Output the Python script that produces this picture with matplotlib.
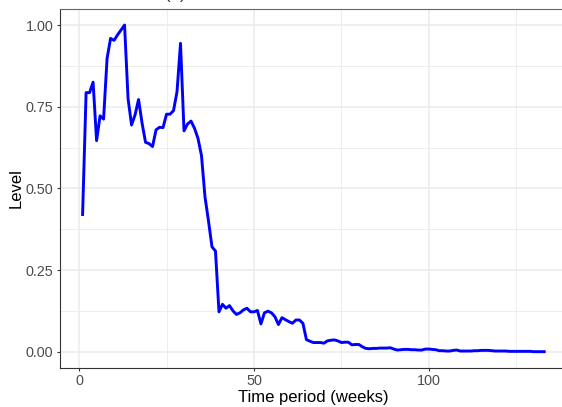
import numpy as np
import matplotlib
matplotlib.use("Agg")
import matplotlib.pyplot as plt
from matplotlib.ticker import MultipleLocator

plt.rcParams['font.family'] = ['Liberation Sans', 'DejaVu Sans']

# weekly level, weeks 1..133
weeks = np.arange(1, 134)
level = [
    0.420, 0.793, 0.793, 0.825, 0.646, 0.722, 0.712, 0.898, 0.959, 0.953,
    0.970, 0.985, 1.000, 0.775, 0.694, 0.725, 0.772, 0.700, 0.641, 0.637,
    0.628, 0.679, 0.687, 0.686, 0.727, 0.727, 0.738, 0.796, 0.944, 0.676,
    0.697, 0.706, 0.684, 0.653, 0.600, 0.474, 0.400, 0.321, 0.308, 0.122,
    0.145, 0.133, 0.141, 0.125, 0.114, 0.119, 0.128, 0.133, 0.122, 0.122,
    0.126, 0.085, 0.119, 0.124, 0.119, 0.107, 0.083, 0.104, 0.098, 0.092,
    0.087, 0.097, 0.097, 0.087, 0.037, 0.032, 0.028, 0.028, 0.028, 0.026,
    0.033, 0.035, 0.036, 0.033, 0.028, 0.029, 0.029, 0.021, 0.022, 0.022,
    0.015, 0.010, 0.009, 0.010, 0.010, 0.011, 0.011, 0.011, 0.012, 0.008,
    0.005, 0.006, 0.007, 0.007, 0.006, 0.006, 0.005, 0.005, 0.008, 0.008,
    0.007, 0.006, 0.003, 0.003, 0.002, 0.002, 0.004, 0.005, 0.002, 0.002,
    0.002, 0.002, 0.003, 0.003, 0.004, 0.004, 0.004, 0.003, 0.002, 0.002,
    0.002, 0.002, 0.001, 0.001, 0.001, 0.001, 0.001, 0.001, 0.001, 0.000,
    0.000, 0.000, 0.000,
]
y_ticks = [0.00, 0.25, 0.50, 0.75, 1.00]
x_ticks = [0, 50, 100]

fig = plt.figure(figsize=(5.62, 4.07), dpi=100)
# panel runs a little past the right edge of the figure
ax = fig.add_axes([0.1059, 0.0958, 0.9035, 0.8828])

ax.plot(weeks, level, color='blue', lw=2.1, solid_joinstyle='round', zorder=3)

xspan = weeks.max() - weeks.min()
ax.set_xlim(weeks.min() - 0.05 * xspan, weeks.max() + 0.05 * xspan)
ax.set_ylim(-0.05, 1.05)

ax.set_xticks(x_ticks)
ax.set_yticks(y_ticks)
ax.set_yticklabels([f"{v:.2f}" for v in y_ticks])
ax.xaxis.set_minor_locator(MultipleLocator(25))
ax.yaxis.set_minor_locator(MultipleLocator(0.125))

ax.grid(which='major', color='#ebebeb', lw=1.1)
ax.grid(which='minor', color='#ebebeb', lw=0.6)
ax.set_axisbelow(True)

for side in ['left', 'bottom', 'top', 'right']:
    ax.spines[side].set_color('#333333')
    ax.spines[side].set_linewidth(0.8)
ax.spines['top'].set_color('#666666')

ax.tick_params(which='major', length=2.2, width=0.8, color='#333333',
               labelcolor='#4d4d4d', labelsize=10.4, pad=2.2)
ax.tick_params(which='minor', length=0)

ax.set_xlabel('Time period (weeks)', fontsize=12, color='black', labelpad=1.5)
ax.set_ylabel('Level', fontsize=12, color='black', labelpad=1.5)

# panel tag sits above the top edge, only its lowest strokes show
fig.text(175 / 562, 1.0 + 1.5 / 407, '(a)', ha='center', va='baseline',
         fontsize=12, color='#333333')

fig.savefig('out.png', dpi=100)
